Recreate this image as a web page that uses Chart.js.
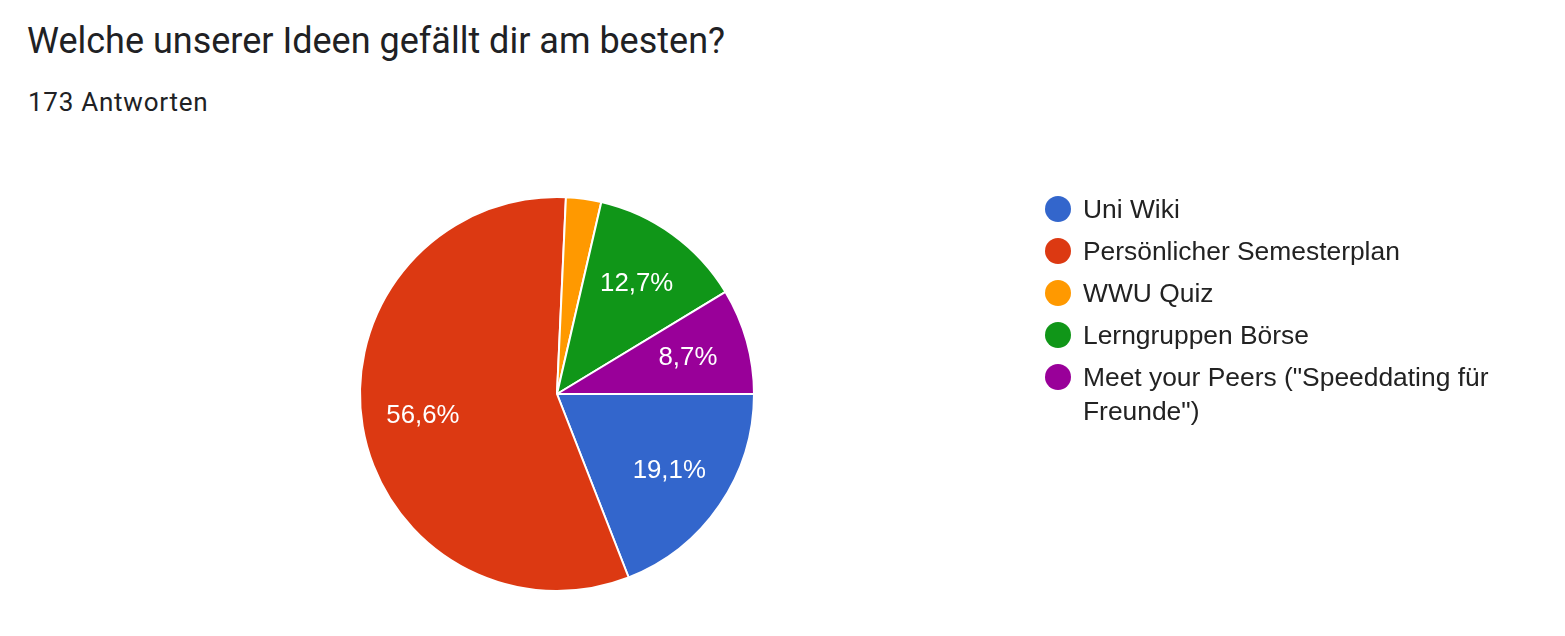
<!DOCTYPE html>
<html>
<head>
<meta charset="utf-8">
<script src="https://cdn.jsdelivr.net/npm/chart.js@4/dist/chart.umd.min.js"></script>
<style>
  body { margin: 0; background: #fff; width: 1565px; height: 636px; overflow: hidden; position: relative; }
  #title { position: absolute; left: 27px; top: 19px; font: 36px Roboto, sans-serif; color: #202124; line-height: 44px; white-space: nowrap; }
  #subtitle { position: absolute; left: 28px; top: 86px; font: 26px Roboto, sans-serif; color: #202124; line-height: 32px; letter-spacing: 0.75px; }
  #chart { position: absolute; left: 0; top: 0; }
  #legend { position: absolute; left: 1045px; top: 192px; width: 470px; font: 26.4px "Liberation Sans", Arial, sans-serif; color: #222; }
  .item { display: flex; align-items: flex-start; margin-bottom: 8px; line-height: 34px; }
  .dot { flex: none; width: 26px; height: 26px; border-radius: 50%; margin: 4px 12px 0 0; }
</style>
</head>
<body>
<div id="title">Welche unserer Ideen gefällt dir am besten?</div>
<div id="subtitle">173 Antworten</div>
<canvas id="chart" width="1565" height="636"></canvas>
<div id="legend"></div>
<script>
const categories = [
    "Uni Wiki",
    "Persönlicher Semesterplan",
    "WWU Quiz",
    "Lerngruppen Börse",
    "Meet your Peers (\"Speeddating für Freunde\")"
];
const responses = [33, 98, 5, 22, 15];
const sliceColors = ["#3366CC", "#DC3912", "#FF9900", "#109618", "#990099"];

// percentages inside the slices, small ones are left out like in google forms
const sliceLabels = {
    id: "sliceLabels",
    afterDatasetsDraw(chart) {
        const ctx = chart.ctx;
        const meta = chart.getDatasetMeta(0);
        const total = responses.reduce((a, b) => a + b, 0);
        ctx.save();
        ctx.fillStyle = "#fff";
        ctx.font = '25.8px "Liberation Sans", Arial, sans-serif';
        ctx.textAlign = "center";
        ctx.textBaseline = "middle";
        meta.data.forEach(function(arc, i) {
            const share = responses[i] / total * 100;
            if (share < 5) {
                return;
            }
            const p = arc.getProps(["x", "y", "startAngle", "endAngle", "outerRadius"], true);
            const mid = (p.startAngle + p.endAngle) / 2;
            const r = p.outerRadius * 0.69;
            ctx.fillText(share.toFixed(1).replace(".", ",") + "%", p.x + Math.cos(mid) * r, p.y + Math.sin(mid) * r);
        });
        ctx.restore();
    }
};

new Chart(document.getElementById("chart"), {
    type: "pie",
    data: {
        labels: categories,
        datasets: [{
            data: responses,
            backgroundColor: sliceColors,
            borderColor: "#fff",
            borderWidth: 2
        }]
    },
    options: {
        responsive: false,
        animation: false,
        rotation: 90,
        layout: { padding: { left: 359, right: 810, top: 196, bottom: 44 } },
        plugins: {
            legend: { display: false },
            tooltip: { enabled: false }
        }
    },
    plugins: [sliceLabels]
});

const legend = document.getElementById("legend");
categories.forEach(function(name, i) {
    const item = document.createElement("div");
    item.className = "item";
    const dot = document.createElement("span");
    dot.className = "dot";
    dot.style.background = sliceColors[i];
    const text = document.createElement("span");
    text.textContent = name;
    item.appendChild(dot);
    item.appendChild(text);
    legend.appendChild(item);
});
</script>
</body>
</html>
